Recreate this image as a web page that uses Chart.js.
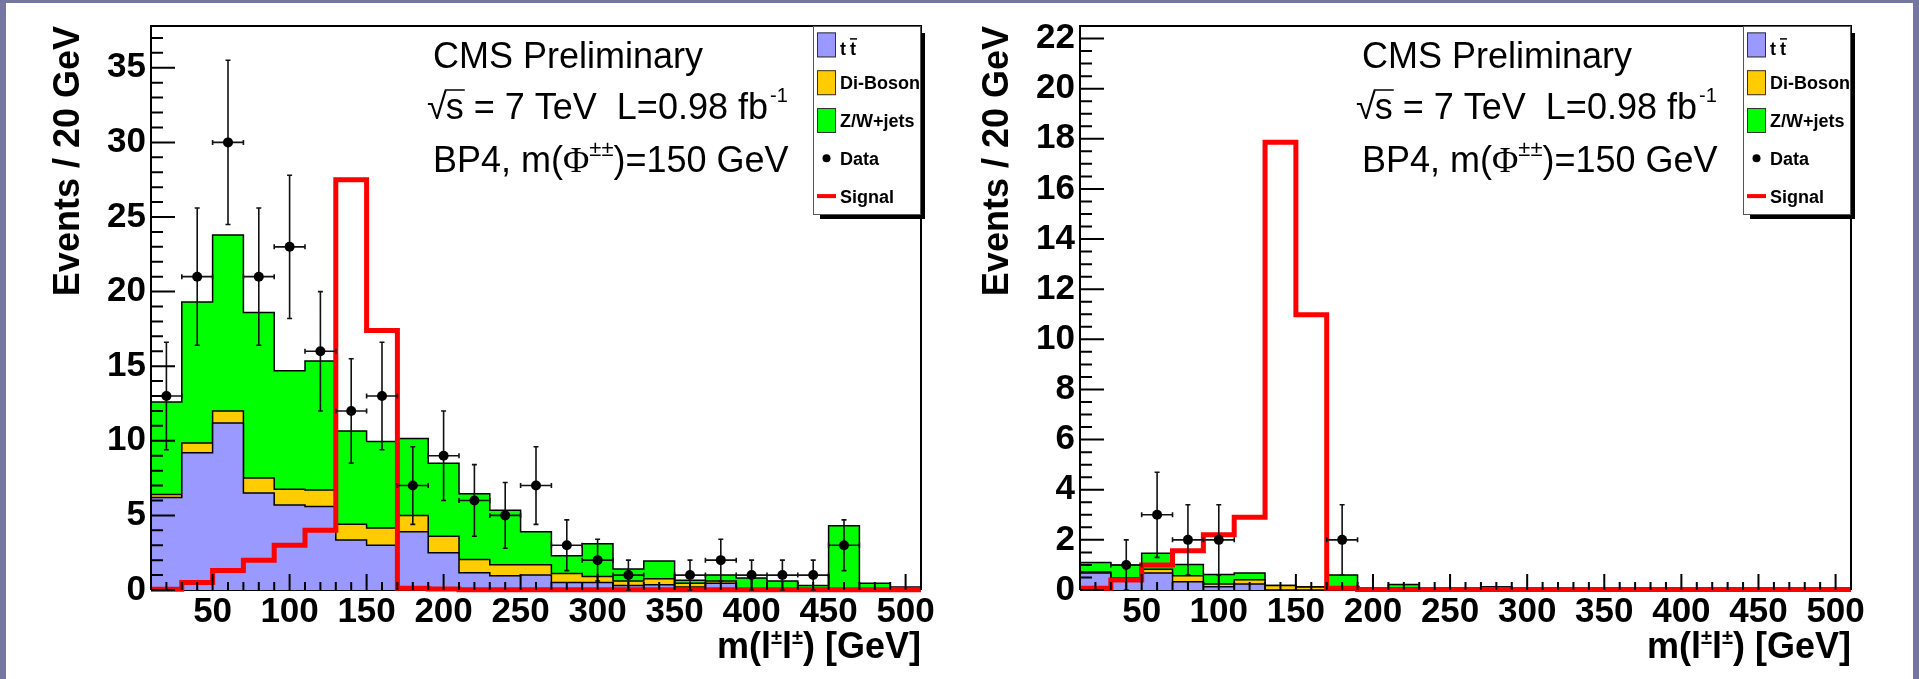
<!DOCTYPE html>
<html>
<head>
<meta charset="utf-8">
<title>m(l±l±) – BP4</title>
<script src="https://cdn.jsdelivr.net/npm/chart.js@4.4.1/dist/chart.umd.min.js"></script>
<style>
    html, body { margin: 0; padding: 0; }
    body { width: 1919px; height: 679px; background: #7677a0; position: relative; overflow: hidden; }
    #sheet { position: absolute; left: 6px; top: 3px; width: 1907px; height: 676px; background: #ffffff; }
    canvas { position: absolute; top: 0; }
    #chartLeft  { left: 0; }
    #chartRight { left: 960px; }
</style>
</head>
<body>
<div id="sheet"></div>
<canvas id="chartLeft" width="960" height="679"></canvas>
<canvas id="chartRight" width="959" height="679"></canvas>
<script>
// ============================================
// DATA
// ============================================

// bin edges, 20 GeV bins
const binEdges = [10, 30, 50, 70, 90, 110, 130, 150, 170, 190, 210, 230, 250, 270, 290, 310, 330, 350, 370, 390, 410, 430, 450, 470, 490, 510];

const xTickLabels     = [50, 100, 150, 200, 250, 300, 350, 400, 450, 500];
const yTickLabelsLeft = [0, 5, 10, 15, 20, 25, 30, 35];
const yTickLabelsRight = [0, 2, 4, 6, 8, 10, 12, 14, 16, 18, 20, 22];

const legendLabels = ["t t", "Di-Boson", "Z/W+jets", "Data", "Signal"];
const infoLines    = ["CMS Preliminary", " = 7 TeV  L=0.98 fb", "BP4, m("];

// left panel
const ttbarLeft   = [6.2, 9.2, 11.2, 6.5, 5.7, 5.6, 3.35, 3.0, 3.9, 2.5, 1.15, 0.95, 1.0, 0.5, 0.5, 0.3, 0.35, 0.2, 0.45, 0, 0, 0, 0, 0, 0];
const dibosonLeft = [0.2, 0.65, 0.8, 1.0, 1.05, 1.1, 1.05, 1.15, 1.1, 1.1, 0.9, 0.75, 0.7, 0.6, 0.4, 0.3, 0.4, 0.25, 0.15, 0, 0, 0, 0, 0, 0];
const zjetsLeft   = [6.2, 9.45, 11.8, 11.1, 7.95, 8.65, 6.25, 5.8, 5.15, 4.9, 4.4, 3.65, 2.2, 1.2, 2.2, 0.8, 1.2, 0.2, 0.4, 0.8, 0.6, 0.3, 4.3, 0.45, 0.2];
const signalLeft  = [0.05, 0.5, 1.3, 2.0, 3.0, 4.0, 27.5, 17.4, 0.12, 0.06, 0.02, 0.02, 0.02, 0.02, 0.02, 0.02, 0.02, 0.02, 0.02, 0.02, 0.02, 0.02, 0.02, 0.02, 0.02];
const dataLeft    = [13, 21, 30, 21, 23, 16, 12, 13, 7, 9, 6, 5, 7, 3, 2, 1, 0, 1, 2, 1, 1, 1, 3, 0, 0];
const dataErrLeft = [3.6, 4.6, 5.5, 4.6, 4.8, 4.0, 3.5, 3.6, 2.6, 3.0, 2.4, 2.2, 2.6, 1.7, 1.4, 1.0, 0, 1.0, 1.4, 1.0, 1.0, 1.0, 1.7, 0, 0];

// right panel
const ttbarRight   = [0.68, 0.45, 0.68, 0.33, 0.13, 0.24, 0, 0, 0.03, 0, 0, 0, 0, 0, 0, 0, 0, 0, 0, 0, 0, 0, 0, 0, 0];
const dibosonRight = [0.04, 0.03, 0.15, 0.24, 0.11, 0.17, 0.18, 0.12, 0.05, 0, 0, 0, 0, 0.12, 0, 0, 0, 0, 0, 0, 0, 0, 0, 0, 0];
const zjetsRight   = [0.38, 0.52, 0.64, 0.45, 0.38, 0.27, 0, 0, 0.52, 0, 0.22, 0, 0, 0, 0, 0, 0, 0, 0, 0, 0, 0, 0, 0, 0];
const signalRight  = [0.07, 0.4, 1.0, 1.57, 2.2, 2.9, 17.86, 10.98, 0.07, 0.02, 0.02, 0.02, 0.02, 0.02, 0.02, 0.02, 0.02, 0.02, 0.02, 0.02, 0.02, 0.02, 0.02, 0.02, 0.02];
const dataRight    = [0, 1, 3, 2, 2, 0, 0, 0, 2, 0, 0, 0, 0, 0, 0, 0, 0, 0, 0, 0, 0, 0, 0, 0, 0];
const dataErrRight = [0, 1.0, 1.7, 1.4, 1.4, 0, 0, 0, 1.4, 0, 0, 0, 0, 0, 0, 0, 0, 0, 0, 0, 0, 0, 0, 0, 0];

// ============================================
// STYLE
// ============================================
const PALETTE = {
    ttbar:   "#9999ff",
    diboson: "#ffcc00",
    zjets:   "#00ff00",
    signal:  "#ff0000",
    ink:     "#000000",
};
const FONT = "'Liberation Sans', Arial, Helvetica, sans-serif";
const SERIF = "'Liberation Serif', 'DejaVu Serif', serif";

Chart.defaults.font.family = FONT;
Chart.defaults.color = PALETTE.ink;

// histogram -> step points at bin edges
function stepPoints(vals) {
    const pts = vals.map((v, i) => ({ x: binEdges[i], y: v }));
    pts.push({ x: binEdges[vals.length], y: vals[vals.length - 1] });
    return pts;
}

function dataPoints(vals) {
    const pts = [];
    vals.forEach((v, i) => {
        if (v > 0) pts.push({ x: (binEdges[i] + binEdges[i + 1]) / 2, y: v });
    });
    return pts;
}

// ============================================
// DRAW HELPERS (ROOT look)
// ============================================
function drawErrorBars(chart, vals, errs) {
    const { ctx, scales: { x, y } } = chart;
    ctx.save();
    ctx.strokeStyle = "#111";
    ctx.lineWidth = 1.6;
    ctx.beginPath();
    vals.forEach((v, i) => {
        if (v <= 0) return;
        const cx = x.getPixelForValue((binEdges[i] + binEdges[i + 1]) / 2);
        const cy = y.getPixelForValue(v);
        const xl = x.getPixelForValue(binEdges[i]);
        const xr = x.getPixelForValue(binEdges[i + 1]);
        const yt = y.getPixelForValue(v + errs[i]);
        const yb = y.getPixelForValue(Math.max(0, v - errs[i]));
        ctx.moveTo(xl, cy); ctx.lineTo(xr, cy);
        ctx.moveTo(xl, cy - 2.5); ctx.lineTo(xl, cy + 2.5);
        ctx.moveTo(xr, cy - 2.5); ctx.lineTo(xr, cy + 2.5);
        ctx.moveTo(cx, yt); ctx.lineTo(cx, yb);
        ctx.moveTo(cx - 2.5, yt); ctx.lineTo(cx + 2.5, yt);
        ctx.moveTo(cx - 2.5, yb); ctx.lineTo(cx + 2.5, yb);
    });
    ctx.stroke();
    ctx.restore();
}

function drawTicks(chart, yMinor, xMinor) {
    const { ctx, chartArea: a, scales: { x, y } } = chart;
    const yMajors = y.ticks.map(t => t.value);
    const xMajors = x.ticks.map(t => t.value);
    ctx.save();
    ctx.strokeStyle = PALETTE.ink;
    ctx.lineWidth = 2;
    ctx.beginPath();
    for (let k = 0; k * yMinor <= y.max + 1e-9; k++) {
        const v = k * yMinor;
        const major = yMajors.some(m => Math.abs(m - v) < 1e-6);
        const py = y.getPixelForValue(v);
        ctx.moveTo(a.left, py);
        ctx.lineTo(a.left + (major ? 24 : 12), py);
    }
    for (let k = 0; x.min + k * xMinor <= x.max + 1e-9; k++) {
        const v = x.min + k * xMinor;
        const major = xMajors.some(m => Math.abs(m - v) < 1e-6);
        const px = x.getPixelForValue(v);
        ctx.moveTo(px, a.bottom);
        ctx.lineTo(px, a.bottom - (major ? 16 : 8));
    }
    ctx.stroke();
    // frame: left, top, right
    ctx.beginPath();
    ctx.moveTo(a.left, a.bottom);
    ctx.lineTo(a.left, a.top);
    ctx.lineTo(a.right, a.top);
    ctx.lineTo(a.right, a.bottom);
    ctx.stroke();
    ctx.restore();
}

function drawLegend(ctx, a) {
    const L = a.right - 108, T = a.top, R = a.right, B = a.top + 189;
    ctx.save();
    ctx.fillStyle = PALETTE.ink;
    ctx.fillRect(L + 7, T + 7, R - L - 3, B - T - 3);
    ctx.fillStyle = "#fff";
    ctx.fillRect(L, T, R - L, B - T);
    ctx.strokeStyle = "#555";
    ctx.lineWidth = 1;
    ctx.strokeRect(L + 0.5, T + 0.5, R - L - 1, B - T - 1);

    const rowH = (B - T) / legendLabels.length;
    const fills = [PALETTE.ttbar, PALETTE.diboson, PALETTE.zjets];
    legendLabels.forEach((label, i) => {
        const cy = T + rowH * (i + 0.5);
        if (i < 3) {
            ctx.fillStyle = fills[i];
            ctx.fillRect(L + 4, cy - 12.5, 19, 25);
            ctx.strokeStyle = "#333";
            ctx.strokeRect(L + 4.5, cy - 12, 18, 24);
        } else if (i === 3) {
            ctx.fillStyle = PALETTE.ink;
            ctx.beginPath();
            ctx.arc(L + 13.5, cy, 4, 0, Math.PI * 2);
            ctx.fill();
        } else {
            ctx.strokeStyle = PALETTE.signal;
            ctx.lineWidth = 4;
            ctx.beginPath();
            ctx.moveTo(L + 4, cy); ctx.lineTo(L + 23, cy);
            ctx.stroke();
            ctx.lineWidth = 1;
        }
        ctx.fillStyle = PALETTE.ink;
        ctx.font = `bold 18px ${FONT}`;
        ctx.textAlign = "left";
        ctx.textBaseline = "alphabetic";
        if (i === 0) {
            // t t-bar
            const x0 = L + 27, base = cy + 10;
            ctx.fillText("t", x0, base);
            const tw = ctx.measureText("t").width;
            const x1 = x0 + tw + 4;
            ctx.fillText("t", x1, base);
            ctx.strokeStyle = PALETTE.ink;
            ctx.lineWidth = 1.5;
            ctx.beginPath();
            ctx.moveTo(x1, base - 16); ctx.lineTo(x1 + tw + 1, base - 16);
            ctx.stroke();
            ctx.lineWidth = 1;
        } else {
            ctx.fillText(label, L + 27, cy + 6.5);
        }
    });
    ctx.restore();
}

function drawInfo(ctx, a) {
    const x0 = a.left + 282;
    ctx.save();
    ctx.fillStyle = PALETTE.ink;
    ctx.strokeStyle = PALETTE.ink;
    ctx.textAlign = "left";
    ctx.textBaseline = "alphabetic";
    ctx.font = `36px ${FONT}`;
    ctx.fillText(infoLines[0], x0, 68);

    // sqrt(s) = 7 TeV  L=0.98 fb^-1
    let x = x0 - 6;
    ctx.fillText("\u221A", x, 119);
    x += ctx.measureText("\u221A").width - 1;
    const sw = ctx.measureText("s").width;
    ctx.fillText("s", x, 119);
    ctx.lineWidth = 1.5;
    ctx.beginPath();
    ctx.moveTo(x - 1, 90); ctx.lineTo(x + sw + 1, 90);
    ctx.stroke();
    x += sw;
    ctx.fillText(infoLines[1], x, 119);
    x += ctx.measureText(infoLines[1]).width;
    ctx.font = `20px ${FONT}`;
    ctx.fillText("-1", x + 2, 102);

    // BP4, m(Phi^{++})=150 GeV
    ctx.font = `36px ${FONT}`;
    x = x0;
    ctx.fillText(infoLines[2], x, 172);
    x += ctx.measureText(infoLines[2]).width;
    ctx.font = `36px ${SERIF}`;
    ctx.fillText("\u03A6", x, 172);
    x += ctx.measureText("\u03A6").width;
    ctx.font = `22px ${FONT}`;
    ctx.fillText("\u00B1\u00B1", x, 156);
    x += ctx.measureText("\u00B1\u00B1").width;
    ctx.font = `36px ${FONT}`;
    ctx.fillText(")=150 GeV", x, 172);
    ctx.restore();
}

function drawAxisTitles(ctx, a) {
    ctx.save();
    ctx.fillStyle = PALETTE.ink;
    ctx.textBaseline = "alphabetic";

    // y title, rotated, flush with the top of the frame
    ctx.save();
    ctx.translate(a.left - 72.5, a.top);
    ctx.rotate(-Math.PI / 2);
    ctx.textAlign = "right";
    ctx.font = `bold 36px ${FONT}`;
    ctx.fillText("Events / 20 GeV", 0, 0);
    ctx.restore();

    // x title, right aligned
    const big = `bold 36px ${FONT}`, sup = `bold 20px ${FONT}`;
    const parts = [
        { t: "m(", f: big, dy: 0 },
        { t: "l", f: big, dy: 0 },
        { t: "\u00B1", f: sup, dy: -14 },
        { t: "l", f: big, dy: 0 },
        { t: "\u00B1", f: sup, dy: -14 },
        { t: ") [GeV]", f: big, dy: 0 },
    ];
    let total = 0;
    parts.forEach(p => { ctx.font = p.f; p.w = ctx.measureText(p.t).width; total += p.w; });
    let x = a.right - total;
    const base = a.bottom + 68;
    ctx.textAlign = "left";
    parts.forEach(p => { ctx.font = p.f; ctx.fillText(p.t, x, base + p.dy); x += p.w; });
    ctx.restore();
}

// ============================================
// PANEL
// ============================================
function buildPanel(canvasId, p) {
    const rootStyle = {
        id: "rootStyle",
        beforeDatasetsDraw(chart) {
            const { ctx, chartArea: a } = chart;
            ctx.save();
            ctx.strokeStyle = PALETTE.ink;
            ctx.lineWidth = 2;
            ctx.beginPath();
            ctx.moveTo(a.left, a.bottom); ctx.lineTo(a.right, a.bottom);
            ctx.stroke();
            ctx.restore();
        },
        beforeDatasetDraw(chart, args) {
            if (args.meta.type === "scatter") drawErrorBars(chart, p.data, p.dataErr);
        },
        afterDatasetsDraw(chart) {
            drawTicks(chart, p.yMinor, 10);
            drawLegend(chart.ctx, chart.chartArea);
            drawInfo(chart.ctx, chart.chartArea);
            drawAxisTitles(chart.ctx, chart.chartArea);
        },
    };

    const tickFont = { family: FONT, size: 35, weight: "bold" };

    return new Chart(document.getElementById(canvasId), {
        type: "line",
        data: {
            datasets: [
                {
                    label: legendLabels[0], data: stepPoints(p.ttbar), stack: "bkg", stepped: true,
                    borderColor: "#000", borderWidth: 1.5, backgroundColor: PALETTE.ttbar,
                    fill: "origin", pointRadius: 0,
                },
                {
                    label: legendLabels[1], data: stepPoints(p.diboson), stack: "bkg", stepped: true,
                    borderColor: "#000", borderWidth: 1.5, backgroundColor: PALETTE.diboson,
                    fill: "-1", pointRadius: 0,
                },
                {
                    label: legendLabels[2], data: stepPoints(p.zjets), stack: "bkg", stepped: true,
                    borderColor: "#000", borderWidth: 1.5, backgroundColor: PALETTE.zjets,
                    fill: "-1", pointRadius: 0,
                },
                {
                    label: legendLabels[4], data: stepPoints(p.signal), stack: "sig", stepped: true,
                    borderColor: PALETTE.signal, borderWidth: 5, fill: false, pointRadius: 0,
                    clip: 8, order: -1,
                },
                {
                    type: "scatter", label: legendLabels[3], data: dataPoints(p.data), stack: "dat",
                    pointRadius: 5, pointBackgroundColor: "#000", pointBorderWidth: 0,
                    showLine: false, order: -2,
                },
            ],
        },
        options: {
            responsive: false,
            animation: false,
            events: [],
            layout: { padding: { left: 0, top: 23, right: p.padRight, bottom: 29 } },
            plugins: { legend: { display: false }, tooltip: { enabled: false } },
            scales: {
                x: {
                    type: "linear",
                    min: binEdges[0],
                    max: binEdges[binEdges.length - 1],
                    grid: { display: false, drawTicks: false },
                    border: { display: false },
                    afterBuildTicks: s => { s.ticks = xTickLabels.map(v => ({ value: v })); },
                    afterFit: s => { s.height = 60; },
                    ticks: { font: tickFont, color: "#000", padding: 1, maxRotation: 0, autoSkip: false },
                },
                y: {
                    type: "linear",
                    stacked: true,
                    min: 0,
                    max: p.yMax,
                    grid: { display: false, drawTicks: false },
                    border: { display: false },
                    afterBuildTicks: s => { s.ticks = p.yTicks.map(v => ({ value: v })); },
                    afterFit: s => { s.width = p.yAxisWidth; },
                    ticks: { font: tickFont, color: "#000", padding: 5, autoSkip: false },
                },
            },
        },
        plugins: [rootStyle],
    });
}

buildPanel("chartLeft", {
    ttbar: ttbarLeft, diboson: dibosonLeft, zjets: zjetsLeft, signal: signalLeft,
    data: dataLeft, dataErr: dataErrLeft,
    yMax: 37.8, yTicks: yTickLabelsLeft, yMinor: 1,
    yAxisWidth: 151, padRight: 39,
});

buildPanel("chartRight", {
    ttbar: ttbarRight, diboson: dibosonRight, zjets: zjetsRight, signal: signalRight,
    data: dataRight, dataErr: dataErrRight,
    yMax: 22.5, yTicks: yTickLabelsRight, yMinor: 0.5,
    yAxisWidth: 120, padRight: 68,
});
</script>
</body>
</html>
